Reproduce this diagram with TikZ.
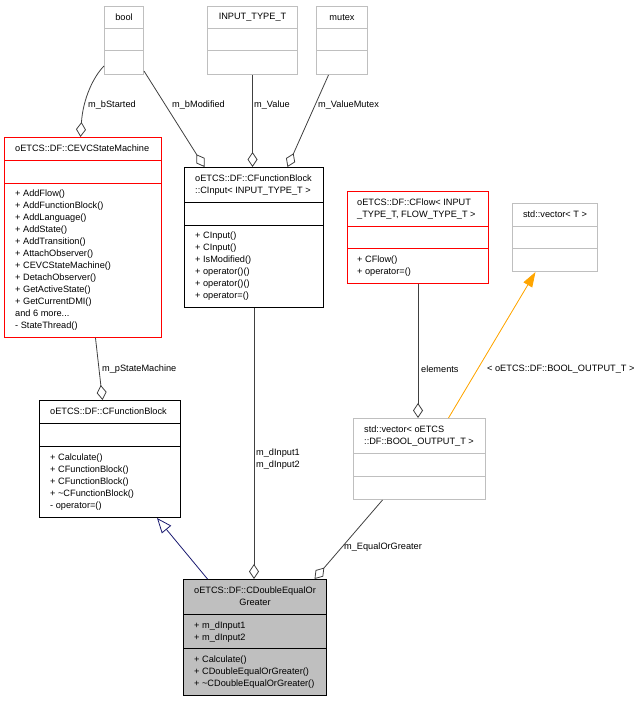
\documentclass[tikz,border=0pt]{standalone}
\usepackage{fontspec}
\setmainfont{Liberation Sans}
\usetikzlibrary{arrows.meta}
\definecolor{boxgray}{HTML}{BFBFBF}
\definecolor{edgegray}{HTML}{404040}
\definecolor{navyc}{HTML}{191970}
\definecolor{orng}{HTML}{FFA500}
\newcommand\dxf{\fontsize{9.2}{12}\selectfont}
\begin{document}
\begin{tikzpicture}[x=1pt,y=-1pt,
  cls/.style={rectangle, inner sep=0pt, line width=1pt, anchor=north west},
  sep/.style={line width=1pt},
  ttl/.style={font=\dxf, inner sep=0pt, align=left, anchor=north west},
  ctl/.style={font=\dxf, inner sep=0pt, align=center},
  lbl/.style={font=\dxf, inner sep=0pt, anchor=west},
  rel/.style={draw=edgegray, line width=0.8pt},
  agg/.style={rel, -{Diamond[open, length=15pt, width=10pt]}},
]
\useasboundingbox (0,0) rectangle (636,701);

% bool
\node[cls, draw=boxgray, minimum width=39pt, minimum height=68pt] (bool) at (104,6) {};
\draw[sep, boxgray] (bool.west |- 0,29) -- (bool.east |- 0,29);
\draw[sep, boxgray] (bool.west |- 0,51) -- (bool.east |- 0,51);
\node[ctl] (boolT) at (bool.north |- 0,17.5) {bool};

% INPUT_TYPE_T
\node[cls, draw=boxgray, minimum width=90pt, minimum height=68pt] (inp) at (207,6) {};
\draw[sep, boxgray] (inp.west |- 0,29) -- (inp.east |- 0,29);
\draw[sep, boxgray] (inp.west |- 0,51) -- (inp.east |- 0,51);
\node[ctl] (inpT) at (inp.north |- 0,17.5) {INPUT\_TYPE\_T};

% mutex
\node[cls, draw=boxgray, minimum width=51pt, minimum height=68pt] (mtx) at (316,6) {};
\draw[sep, boxgray] (mtx.west |- 0,29) -- (mtx.east |- 0,29);
\draw[sep, boxgray] (mtx.west |- 0,51) -- (mtx.east |- 0,51);
\node[ctl] (mtxT) at (mtx.north |- 0,17.5) {mutex};

% CEVCStateMachine
\node[cls, draw=red, minimum width=157pt, minimum height=200pt] (cevc) at (4,137) {};
\draw[sep, red] (cevc.west |- 0,160) -- (cevc.east |- 0,160);
\draw[sep, red] (cevc.west |- 0,183) -- (cevc.east |- 0,183);
\node[ttl] (cevcT) at (15,144.7) {oETCS::DF::CEVCStateMachine};
\node[ttl] (cevcM) at (15,189.7) {+ AddFlow()\\+ AddFunctionBlock()\\+ AddLanguage()\\+ AddState()\\+ AddTransition()\\+ AttachObserver()\\+ CEVCStateMachine()\\+ DetachObserver()\\+ GetActiveState()\\+ GetCurrentDMI()\\and 6 more...\\- StateThread()};

% CInput
\node[cls, draw=black, minimum width=139pt, minimum height=140pt] (cin) at (184,167) {};
\draw[sep] (cin.west |- 0,202) -- (cin.east |- 0,202);
\draw[sep] (cin.west |- 0,225) -- (cin.east |- 0,225);
\node[ttl] (cinT) at (195,174.7) {oETCS::DF::CFunctionBlock\\::CInput< INPUT\_TYPE\_T >};
\node[ttl] (cinM) at (195,231.7) {+ CInput()\\+ CInput()\\+ IsModified()\\+ operator()()\\+ operator()()\\+ operator=()};

% CFlow
\node[cls, draw=red, minimum width=141pt, minimum height=92pt] (cfl) at (347,191) {};
\draw[sep, red] (cfl.west |- 0,226) -- (cfl.east |- 0,226);
\draw[sep, red] (cfl.west |- 0,248) -- (cfl.east |- 0,248);
\node[ttl] (cflT) at (357,198.7) {oETCS::DF::CFlow< INPUT\\\_TYPE\_T, FLOW\_TYPE\_T >};
\node[ttl] (cflM) at (357,255.7) {+ CFlow()\\+ operator=()};

% std::vector<T>
\node[cls, draw=boxgray, minimum width=85pt, minimum height=68pt] (vect) at (512,203) {};
\draw[sep, boxgray] (vect.west |- 0,226) -- (vect.east |- 0,226);
\draw[sep, boxgray] (vect.west |- 0,248) -- (vect.east |- 0,248);
\node[ctl] (vectT) at (vect.north |- 0,214.5) {std::vector< T >};

% CFunctionBlock
\node[cls, draw=black, minimum width=141pt, minimum height=117pt] (cfb) at (39,400) {};
\draw[sep] (cfb.west |- 0,423) -- (cfb.east |- 0,423);
\draw[sep] (cfb.west |- 0,446) -- (cfb.east |- 0,446);
\node[ttl] (cfbT) at (50,407.7) {oETCS::DF::CFunctionBlock};
\node[ttl] (cfbM) at (50,453.7) {+ Calculate()\\+ CFunctionBlock()\\+ CFunctionBlock()\\+ \textasciitilde CFunctionBlock()\\- operator=()};

% std::vector<BOOL_OUTPUT_T>
\node[cls, draw=boxgray, minimum width=132pt, minimum height=81pt] (vecb) at (353,418) {};
\draw[sep, boxgray] (vecb.west |- 0,453) -- (vecb.east |- 0,453);
\draw[sep, boxgray] (vecb.west |- 0,476) -- (vecb.east |- 0,476);
\node[ttl] (vecbT) at (364,425.7) {std::vector< oETCS\\::DF::BOOL\_OUTPUT\_T >};

% CDoubleEqualOrGreater
\node[cls, draw=black, fill=boxgray, minimum width=143pt, minimum height=116pt] (cde) at (183,579) {};
\draw[sep] (cde.west |- 0,614) -- (cde.east |- 0,614);
\draw[sep] (cde.west |- 0,648) -- (cde.east |- 0,648);
\node[ctl] (cdeT) at (cde.north |- 0,596.5) {oETCS::DF::CDoubleEqualOr\\Greater};
\node[ttl] (cdeA) at (194,621.7) {+ m\_dInput1\\+ m\_dInput2};
\node[ttl] (cdeM) at (194,655.7) {+ Calculate()\\+ CDoubleEqualOrGreater()\\+ \textasciitilde CDoubleEqualOrGreater()};

% relations
\draw[agg] ([yshift=9pt]bool.south west) .. controls (94,76) and (83,98) .. ([xshift=-2.5pt]cevc.north);
\draw[agg] ([yshift=4pt]bool.south east) -- ([xshift=-49.5pt]cin.north);
\draw[agg] (inp.south) -- (inp.south |- cin.north);
\draw[agg] ([xshift=-13.5pt]mtx.south) -- ([xshift=33.5pt]cin.north);
\draw[agg] ([xshift=12.5pt]cevc.south) -- ([xshift=-7.5pt]cfb.north);
\draw[agg] (cin.south) -- (cin.south |- cde.north);
\draw[agg] (cfl.south) -- (cfl.south |- vecb.north);
\draw[agg] ([xshift=-37pt]vecb.south) -- ([xshift=59.5pt]cde.north);
\draw[draw=orng, fill=orng, line width=0.8pt, -{Triangle[length=15pt, width=10pt]}] ([xshift=29pt]vecb.north) -- ([xshift=-19.5pt]vect.south);
\draw[draw=navyc, line width=0.8pt, -{Triangle[open, length=15pt, width=12pt]}] ([xshift=-47.5pt]cde.north) -- ([xshift=47pt]cfb.south);

% labels
\node[lbl] (l1) at (88,105) {m\_bStarted};
\node[lbl] (l2) at (172,105) {m\_bModified};
\node[lbl] (l3) at (254,105) {m\_Value};
\node[lbl] (l4) at (318,105) {m\_ValueMutex};
\node[lbl] (l5) at (102,369) {m\_pStateMachine};
\node[ttl] (l6) at (256,448.7) {m\_dInput1\\m\_dInput2};
\node[lbl] (l7) at (421,369) {elements};
\node[lbl] (l8) at (487,369) {< oETCS::DF::BOOL\_OUTPUT\_T >};
\node[lbl] (l9) at (344,547) {m\_EqualOrGreater};
\end{tikzpicture}
\end{document}
